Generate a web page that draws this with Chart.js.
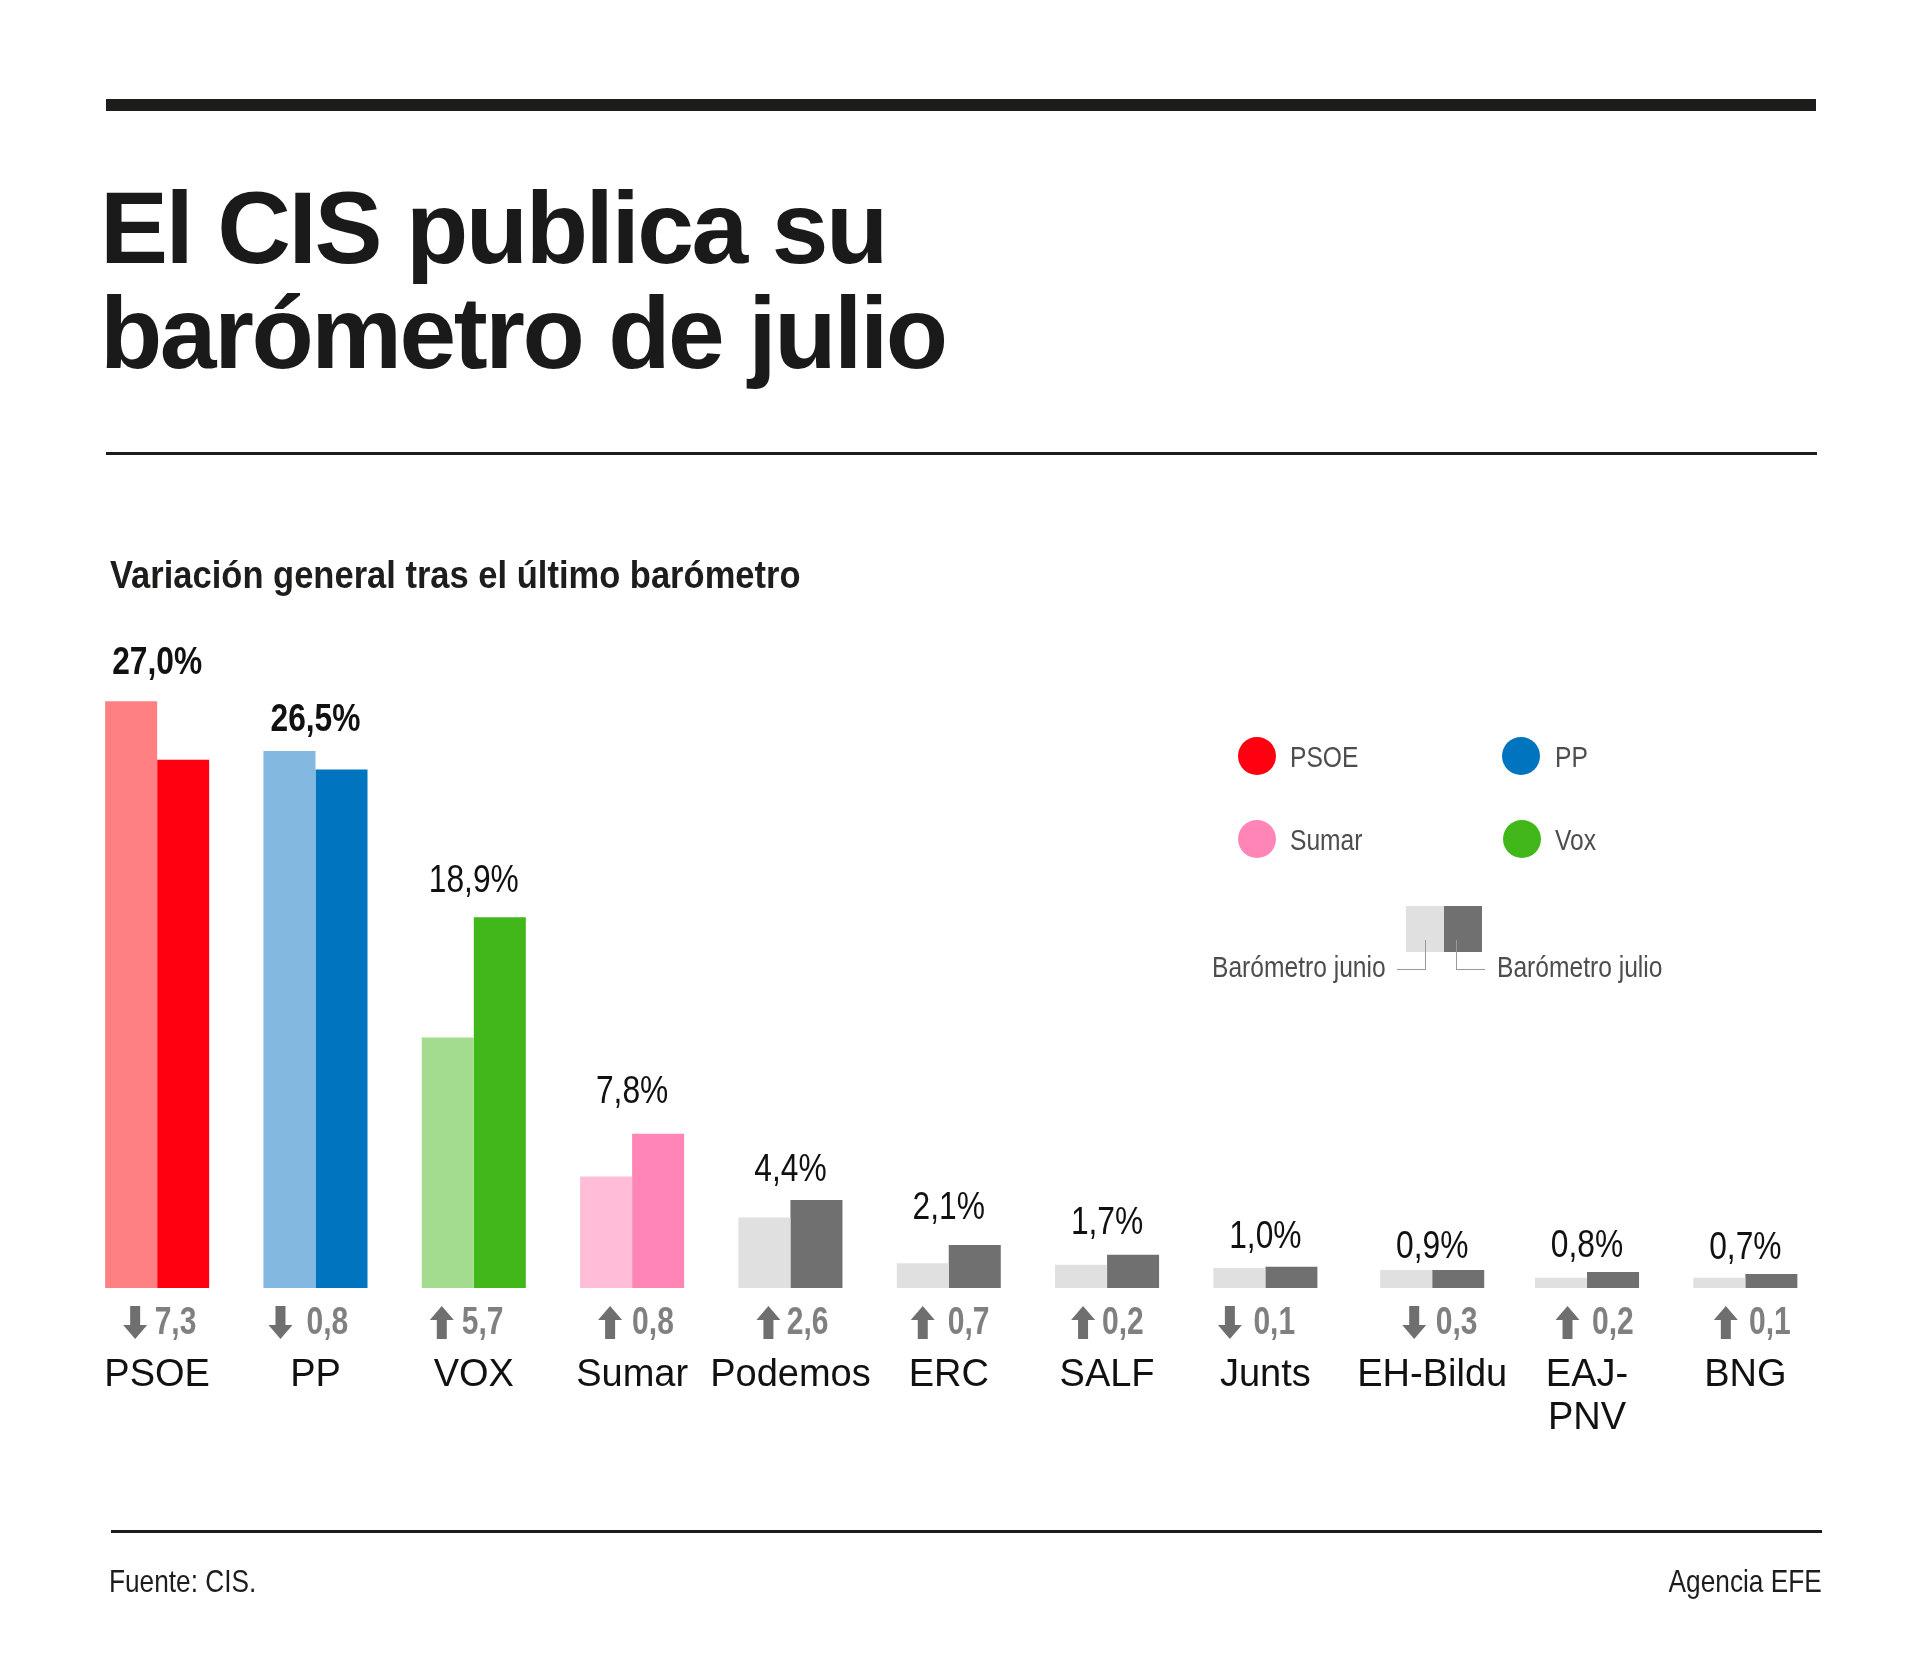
<!DOCTYPE html>
<html lang="es">
<head>
<meta charset="utf-8">
<title>El CIS publica su barómetro de julio</title>
<script src="https://cdn.jsdelivr.net/npm/chart.js@4/dist/chart.umd.js"></script>
<style>
html,body{margin:0;padding:0;background:#fff;}
body{position:relative;width:1920px;height:1671px;overflow:hidden;font-family:"Liberation Sans",Arial,sans-serif;}
#c{position:absolute;left:0;top:0;}
.abs{position:absolute;white-space:nowrap;}
.rule{position:absolute;background:#1d1d1b;}
.narrow{transform:scaleX(.82);transform-origin:left top;}
#title{left:100px;top:176px;font-weight:700;font-size:102px;line-height:105px;letter-spacing:-2.45px;color:#1a1a1a;white-space:pre;}
#sub{left:110px;top:553px;font-weight:700;font-size:39px;line-height:44px;color:#1d1d1b;transform:scaleX(.885);transform-origin:left top;}
.foot{top:1562px;font-size:32px;line-height:38px;color:#1d1d1b;}
.lg{font-size:30px;line-height:34px;color:#4d4d4d;}
.dot{position:absolute;width:38px;height:38px;border-radius:50%;}
.sq{position:absolute;top:906px;width:38px;height:46px;}
.ld{position:absolute;background:#9a9a9a;}
</style>
</head>
<body>
<canvas id="c" width="1920" height="1671"></canvas>

<div class="rule" style="left:106px;top:99px;width:1710px;height:12px"></div>
<div class="abs" id="title">El CIS publica su
barómetro de julio</div>
<div class="rule" style="left:106px;top:452px;width:1711px;height:3px"></div>
<div class="abs" id="sub">Variación general tras el último barómetro</div>

<div class="dot" style="left:1238px;top:737px;background:#ff0011"></div>
<div class="abs narrow lg" style="left:1290px;top:740px">PSOE</div>
<div class="dot" style="left:1502px;top:737px;background:#0074bf"></div>
<div class="abs narrow lg" style="left:1555px;top:740px">PP</div>
<div class="dot" style="left:1238px;top:820px;background:#ff85b7"></div>
<div class="abs narrow lg" style="left:1290px;top:823px">Sumar</div>
<div class="dot" style="left:1503px;top:820px;background:#42b719"></div>
<div class="abs narrow lg" style="left:1555px;top:823px">Vox</div>

<div class="sq" style="left:1406px;background:#e0e0e0"></div>
<div class="sq" style="left:1444px;background:#707070"></div>
<div class="ld" style="left:1425px;top:940px;width:1px;height:29px"></div>
<div class="ld" style="left:1397px;top:969px;width:29px;height:1px"></div>
<div class="ld" style="left:1456px;top:940px;width:1px;height:29px"></div>
<div class="ld" style="left:1456px;top:969px;width:29px;height:1px"></div>
<div class="abs narrow lg" style="left:1212px;top:950px">Barómetro junio</div>
<div class="abs narrow lg" style="left:1497px;top:950px">Barómetro julio</div>

<div class="rule" style="left:111px;top:1530px;width:1711px;height:3px"></div>
<div class="abs narrow foot" style="left:109px">Fuente: CIS.</div>
<div class="abs narrow foot" style="right:98px;transform-origin:right top">Agencia EFE</div>

<script>
// ---- data ----
const parties = ['PSOE','PP','VOX','Sumar','Podemos','ERC','SALF','Junts','EH-Bildu',['EAJ-','PNV'],'BNG'];
// bar heights
const june = [30.0,27.45,12.8,5.7,3.6,1.27,1.19,1.02,0.92,0.52,0.52];
const july = [27.0,26.5,18.95,7.88,4.5,2.2,1.7,1.08,0.92,0.82,0.72];
// printed figures
const julyLabels = [27.0,26.5,18.9,7.8,4.4,2.1,1.7,1.0,0.9,0.8,0.7];
const changes = [-7.3,-0.8,5.7,0.8,2.6,0.7,0.2,-0.1,-0.3,0.2,0.1];

// ---- styles ----
const juneColors = ['#ff8083','#83b8e0','#a3db8f','#ffbdd8','#e0e0e0','#e0e0e0','#e0e0e0','#e0e0e0','#e0e0e0','#e0e0e0','#e0e0e0'];
const julyColors = ['#ff0011','#0074bf','#42b719','#ff85b7','#707070','#707070','#707070','#707070','#707070','#707070','#707070'];

// ---- layout (pixels, annotation placement only) ----
const groupNudge = [0,0,0,0,0,0,0,0,8.5,5,5];
const labelGap = [27,20.5,25,30.5,18.5,25.5,21,18.5,12.5,15,14.5];
const arrowOffset = [-22,-35,-32,-22,-22,-26,-24,-35.5,-18,-19.5,-19.5];
const changeOffset = [-2.5,-9,-12,0,-3.6,-1,-5,-12,3.6,5,3.6];
const BASE = '"Liberation Sans",Arial,sans-serif';
const fmt = v => v.toFixed(1).replace('.', ',');

function condensed(ctx, text, x, y, sx) {
  ctx.save();
  ctx.translate(x, y);
  ctx.scale(sx, 1);
  ctx.fillText(text, 0, 0);
  ctx.restore();
}

class NudgedCategoryScale extends Chart.CategoryScale {
  getPixelForValue(value, index) {
    const px = super.getPixelForValue(value, index);
    const i = Math.round(typeof value === 'number' ? value : this.parse(value));
    return px + (groupNudge[i] || 0);
  }
}
NudgedCategoryScale.id = 'nudgedCategory';
NudgedCategoryScale.defaults = Chart.CategoryScale.defaults;
Chart.register(NudgedCategoryScale);

const annotations = {
  id: 'annotations',
  afterDatasetsDraw(chart) {
    const {ctx, scales:{x, y}} = chart;
    ctx.save();
    parties.forEach((p, i) => {
      const cx = x.getPixelForValue(i);
      const top = y.getPixelForValue(Math.max(june[i], july[i]));
      ctx.textAlign = 'center';
      ctx.textBaseline = 'alphabetic';
      ctx.fillStyle = '#111';
      ctx.font = (i < 2 ? '700 ' : '400 ') + '38px ' + BASE;
      condensed(ctx, fmt(julyLabels[i]) + '%', cx, top - labelGap[i], 0.835);

      const ax = cx + arrowOffset[i], t = 1306, h = 33;
      ctx.fillStyle = '#6f6f6f';
      ctx.beginPath();
      if (changes[i] > 0) {
        ctx.moveTo(ax, t); ctx.lineTo(ax + 12, t + 14); ctx.lineTo(ax + 5, t + 14);
        ctx.lineTo(ax + 5, t + h); ctx.lineTo(ax - 5, t + h); ctx.lineTo(ax - 5, t + 14); ctx.lineTo(ax - 12, t + 14);
      } else {
        ctx.moveTo(ax, t + h); ctx.lineTo(ax + 12, t + h - 14); ctx.lineTo(ax + 5, t + h - 14);
        ctx.lineTo(ax + 5, t); ctx.lineTo(ax - 5, t); ctx.lineTo(ax - 5, t + h - 14); ctx.lineTo(ax - 12, t + h - 14);
      }
      ctx.closePath();
      ctx.fill();

      ctx.textAlign = 'left';
      ctx.fillStyle = '#808080';
      ctx.font = '700 38px ' + BASE;
      condensed(ctx, fmt(Math.abs(changes[i])), cx + changeOffset[i], 1334, 0.79);
    });
    ctx.restore();
  }
};

new Chart(document.getElementById('c'), {
  type: 'bar',
  data: {
    labels: parties,
    datasets: [
      {label: 'Barómetro junio', data: june, backgroundColor: juneColors, borderWidth: 0},
      {label: 'Barómetro julio', data: july, backgroundColor: julyColors, borderWidth: 0}
    ]
  },
  plugins: [annotations],
  options: {
    responsive: false,
    animation: false,
    devicePixelRatio: 1,
    layout: {padding: {left: 78, right: 100.5, top: 662, bottom: 223}},
    plugins: {legend: {display: false}, title: {display: false}, tooltip: {enabled: false}},
    datasets: {bar: {categoryPercentage: 0.672, barPercentage: 1}},
    scales: {
      x: {
        type: 'nudgedCategory',
        offset: true,
        border: {display: false},
        grid: {display: false, drawTicks: false},
        afterFit(s) { s.height = 160; },
        ticks: {
          autoSkip: false, maxRotation: 0, minRotation: 0, padding: 66,
          color: '#111',
          font: {family: BASE, size: 38, lineHeight: 1.13}
        }
      },
      y: {display: false, min: 0, max: 32}
    }
  }
});
</script>
</body>
</html>
